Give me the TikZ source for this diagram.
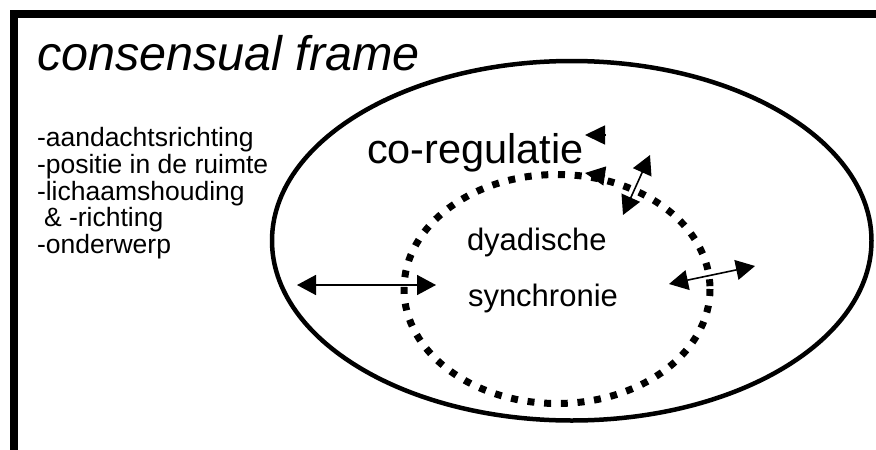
\documentclass[tikz,border=0pt]{standalone}
\usepackage{fontspec}
\setmainfont{Liberation Sans}
\usetikzlibrary{arrows.meta}

\begin{document}
\begin{tikzpicture}[x=1pt,y=-1pt,
  txt/.style={anchor=base west, inner sep=0pt, outer sep=0pt},
  listtxt/.style={txt, font=\fontsize{26.5}{30}\selectfont},
  twoway/.style={{Triangle[length=19pt,width=20pt]}-{Triangle[length=19pt,width=20pt]}, line width=1.6pt},
  lonehead/.style={-{Triangle[length=20pt,width=19pt]}, line width=1.6pt},
  frameline/.style={line width=8pt, line join=miter},
  outer/.style={line width=4.5pt},
  inner/.style={line width=7pt, dash pattern=on 7pt off 9.7pt}
]
\useasboundingbox (0,0) rectangle (876,450);
\fill[white] (0,0) rectangle (876,450);

% open frame: left and top edges
\draw[frameline] (14,456) -- (14,14) -- (882,14);

% title and list of frame features
\node[txt, font=\fontsize{48.5}{56}\selectfont\itshape] (title) at (37,70) {consensual frame};
\node[listtxt] (l1) at (37,146) {-aandachtsrichting};
\node[listtxt] (l2) at (37,173) {-positie in de ruimte};
\node[listtxt] (l3) at (37,200) {-lichaamshouding};
\node[listtxt] (l4) at (44,226.5) {\& -richting};
\node[listtxt] (l5) at (37,253) {-onderwerp};

% the two nested regions
\draw[outer] (571.75,240.75) ellipse [x radius=299.75, y radius=179.75];
\draw[inner] (557,289) ellipse [x radius=153, y radius=114.5];

% labels
\node[txt, font=\fontsize{41.5}{48}\selectfont] (coreg) at (367,163) {co-regulatie};
\node[txt, font=\fontsize{31}{36}\selectfont] (dyad) at (467,250) {dyadische};
\node[txt, font=\fontsize{31}{36}\selectfont] (sync) at (468,306) {synchronie};

% arrow end points
\coordinate (aL) at (297,285);
\coordinate (aR) at (436,285);
\coordinate (bL) at (623,215);
\coordinate (bU) at (650,155);
\coordinate (cL) at (669,284);
\coordinate (cR) at (755,266);
\coordinate (h1s) at (605,135);
\coordinate (h1t) at (585,135);
\coordinate (h2s) at (605,176);
\coordinate (h2t) at (585,173);

% exchanges across the boundaries
\draw[twoway] (aL) -- (aR);
\draw[twoway] (bL) -- (bU);
\draw[twoway] (cL) -- (cR);
\draw[lonehead] (h1s) -- (h1t);
\draw[lonehead] (h2s) -- (h2t);
\end{tikzpicture}
\end{document}
